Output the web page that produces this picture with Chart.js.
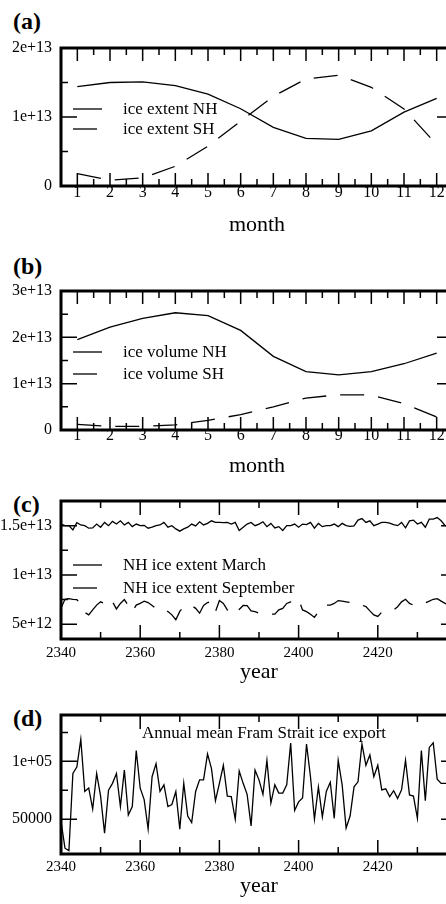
<!DOCTYPE html>
<html>
<head>
<meta charset="utf-8">
<script src="https://cdn.jsdelivr.net/npm/chart.js@4/dist/chart.umd.min.js"></script>
<style>
html, body { margin:0; padding:0; background:#fff; overflow:hidden; width:446px; height:904px; }
canvas { position:absolute; left:0; }
.lab { position:absolute; left:13px; font-family:"Liberation Serif","Times New Roman",serif; font-weight:bold; font-size:24px; line-height:24px; color:#000; }
</style>
</head>
<body>
<div class="lab" style="top:9px">(a)</div>
<div class="lab" style="top:254px">(b)</div>
<div class="lab" style="top:492px">(c)</div>
<div class="lab" style="top:706px">(d)</div>
<canvas id="ca" width="470" height="207" style="top:31px"></canvas>
<canvas id="cb" width="470" height="205" style="top:274px"></canvas>
<canvas id="cc" width="470" height="201" style="top:484px"></canvas>
<canvas id="cd" width="470" height="201" style="top:698px"></canvas>
<script>
// ---------------- DATA ----------------
const months = [1, 2, 3, 4, 5, 6, 7, 8, 9, 10, 11, 12];

// (a) monthly sea-ice extent, units of 1e13
const iceExtentNH = [1.44, 1.50, 1.51, 1.455, 1.33, 1.12, 0.85, 0.69, 0.676, 0.80, 1.07, 1.27];
const iceExtentSH = [0.178, 0.085, 0.117, 0.286, 0.577, 0.94, 1.30, 1.55, 1.605, 1.43, 1.117, 0.60];

// (b) monthly sea-ice volume, units of 1e13
const iceVolumeNH = [1.95, 2.22, 2.41, 2.53, 2.47, 2.15, 1.59, 1.26, 1.19, 1.26, 1.43, 1.66];
const iceVolumeSH = [0.12, 0.08, 0.08, 0.11, 0.21, 0.33, 0.50, 0.69, 0.76, 0.755, 0.57, 0.28];

const years = [
  2340, 2341, 2342, 2343, 2344, 2345, 2346, 2347, 2348, 2349,
  2350, 2351, 2352, 2353, 2354, 2355, 2356, 2357, 2358, 2359,
  2360, 2361, 2362, 2363, 2364, 2365, 2366, 2367, 2368, 2369,
  2370, 2371, 2372, 2373, 2374, 2375, 2376, 2377, 2378, 2379,
  2380, 2381, 2382, 2383, 2384, 2385, 2386, 2387, 2388, 2389,
  2390, 2391, 2392, 2393, 2394, 2395, 2396, 2397, 2398, 2399,
  2400, 2401, 2402, 2403, 2404, 2405, 2406, 2407, 2408, 2409,
  2410, 2411, 2412, 2413, 2414, 2415, 2416, 2417, 2418, 2419,
  2420, 2421, 2422, 2423, 2424, 2425, 2426, 2427, 2428, 2429,
  2430, 2431, 2432, 2433, 2434, 2435, 2436, 2437, 2438
];

// (c) NH ice extent, units of 1e12
const extentMarch = [
  15.16, 15.0, 15.0, 14.57, 15.30, 15.07, 15.0, 14.74, 14.77, 15.16,
  14.84, 15.33, 15.0, 15.43, 15.16, 15.49, 15.07, 15.33, 14.90, 15.16,
  15.0, 15.03, 14.74, 14.84, 15.0, 15.07, 15.33, 14.84, 15.0, 14.67,
  14.44, 14.67, 14.84, 15.16, 14.97, 15.39, 15.07, 15.23, 15.49, 15.33,
  15.33, 15.30, 15.33, 15.16, 15.33, 14.51, 14.84, 15.16, 15.33, 15.0,
  15.16, 15.39, 14.90, 15.23, 14.77, 14.90, 14.51, 15.0, 15.0, 15.16,
  14.84, 15.16, 15.10, 15.33, 14.74, 15.23, 14.90, 15.0, 15.0, 15.16,
  14.90, 15.23, 15.0, 14.93, 14.97, 15.56, 15.72, 15.33, 15.49, 15.0,
  15.16, 15.33, 15.33, 15.26, 15.10, 15.0, 15.33, 14.77, 15.49, 15.56,
  15.16, 15.33, 14.84, 15.66, 15.66, 15.82, 15.49, 15.0, 14.9
];
const extentSeptember = [
  6.61, 7.53, 7.60, 7.53, 7.50, 7.0, 6.2, 5.95, 6.45, 6.94,
  7.27, 7.1, 6.8, 7.27, 6.55, 7.11, 7.50, 6.9, 6.28, 6.94,
  7.11, 7.34, 7.20, 6.9, 6.6, 6.55, 6.55, 6.28, 5.95, 5.46,
  6.3, 6.78, 6.94, 6.88, 6.61, 6.12, 6.9, 7.2, 7.27, 6.28,
  7.40, 7.11, 6.45, 6.94, 6.68, 6.5, 6.9, 6.88, 6.35, 6.28,
  6.12, 6.02, 6.02, 6.02, 6.02, 6.45, 6.61, 7.11, 7.27, 7.53,
  7.53, 6.45, 6.28, 6.02, 5.69, 6.28, 6.78, 6.94, 6.94, 7.11,
  7.40, 7.34, 7.27, 7.20, 7.01, 6.94, 6.94, 6.78, 6.35, 5.95,
  5.79, 6.22, 6.35, 6.35, 6.45, 6.78, 7.27, 7.53, 7.11, 6.94,
  6.88, 7.01, 7.17, 7.34, 7.53, 7.60, 7.34, 7.11, 6.9
];

// (d) annual mean Fram Strait ice export
const framExport = [
  48500, 25000, 23000, 89500, 95000, 119000, 74000, 77000, 58700, 89500,
  70000, 38000, 75000, 81000, 89500, 61000, 92400, 53600, 61000, 109300,
  76800, 67000, 41500, 86700, 98000, 74000, 79700, 61000, 62700, 74000,
  41500, 81000, 52800, 47200, 74000, 84000, 84000, 106400, 93700, 66000,
  81000, 96600, 70000, 69500, 50000, 91600, 81000, 71500, 44300, 92400,
  84000, 71500, 100800, 64000, 79700, 72600, 72600, 79700, 115800, 57600,
  65000, 68400, 115000, 86700, 50000, 78000, 52000, 74000, 81900, 50800,
  100800, 79700, 42400, 52800, 78000, 82300, 115000, 96600, 105600, 86700,
  96600, 75400, 76300, 69500, 74600, 68000, 75400, 101000, 71000, 70000,
  50800, 109300, 66000, 112000, 116000, 84600, 81000, 81000, 81000
];

// ticks
const monthTicks = [1, 2, 3, 4, 5, 6, 7, 8, 9, 10, 11, 12];
const monthMinorTicks = [1.5, 2.5, 3.5, 4.5, 5.5, 6.5, 7.5, 8.5, 9.5, 10.5, 11.5];
const yearTicks = [2340, 2360, 2380, 2400, 2420];
const yearMinorTicks = [2350, 2370, 2390, 2410, 2430];

const yTicksA = [0, 1e13, 2e13];
const yLabelsA = ['0', '1e+13', '2e+13'];
const yMinorA = [0.5e13, 1.5e13];
const yTicksB = [0, 1e13, 2e13, 3e13];
const yLabelsB = ['0', '1e+13', '2e+13', '3e+13'];
const yMinorB = [0.5e13, 1.5e13, 2.5e13];
const yTicksC = [5e12, 1e13, 1.5e13];
const yLabelsC = ['5e+12', '1e+13', '1.5e+13'];
const yMinorC = [7.5e12, 1.25e13];
const yTicksD = [50000, 100000];
const yLabelsD = ['50000', '1e+05'];
const yMinorD = [75000, 125000];

const noteD = 'Annual mean Fram Strait ice export';

// ---------------- DRAWING ----------------
const FONT = '"Liberation Serif", "Times New Roman", serif';

const framePlugin = {
  id: 'frame',
  afterDatasetsDraw(chart, args, o) {
    const { ctx, chartArea: a } = chart;
    const x = chart.scales.x, y = chart.scales.y;
    ctx.save();
    ctx.strokeStyle = '#000';
    ctx.lineWidth = 1.5;
    ctx.beginPath();
    const xt = (vals, len) => vals.forEach(v => {
      const p = x.getPixelForValue(v);
      ctx.moveTo(p, a.bottom); ctx.lineTo(p, a.bottom - len);
      ctx.moveTo(p, a.top); ctx.lineTo(p, a.top + len);
    });
    const yt = (vals, len) => vals.forEach(v => {
      const p = y.getPixelForValue(v);
      ctx.moveTo(a.left, p); ctx.lineTo(a.left + len, p);
      ctx.moveTo(a.right, p); ctx.lineTo(a.right - len, p);
    });
    xt(o.xMajor, o.xMajorLen);
    xt(o.xMinor, o.xMinorLen);
    yt(o.yMajor, 16);
    yt(o.yMinor, 7);
    ctx.stroke();
    ctx.lineWidth = 3;
    ctx.strokeRect(a.left, a.top, a.right - a.left, a.bottom - a.top);
    ctx.restore();
  }
};

const legendPlugin = {
  id: 'inlegend',
  afterDatasetsDraw(chart, args, o) {
    if (!o.rows) return;
    const { ctx, chartArea: a } = chart;
    chart.data.datasets.forEach((ds, i) => {
      const yy = a.top + o.rows[i];
      ctx.save();
      ctx.strokeStyle = '#000';
      ctx.lineWidth = 1.3;
      ctx.setLineDash(ds.borderDash || []);
      ctx.beginPath();
      ctx.moveTo(a.left + 12, yy);
      ctx.lineTo(a.left + 41, yy);
      ctx.stroke();
      ctx.setLineDash([]);
      ctx.fillStyle = '#000';
      ctx.font = '17px ' + FONT;
      ctx.textBaseline = 'middle';
      ctx.textAlign = 'left';
      ctx.fillText(ds.label, a.left + 62, yy + 1);
      ctx.restore();
    });
  }
};

const notePlugin = {
  id: 'note',
  afterDatasetsDraw(chart, args, o) {
    if (!o.text) return;
    const { ctx, chartArea: a } = chart;
    ctx.save();
    ctx.fillStyle = '#000';
    ctx.font = '17px ' + FONT;
    ctx.textBaseline = 'middle';
    ctx.textAlign = 'left';
    ctx.fillText(o.text, a.left + o.dx, a.top + o.dy);
    ctx.restore();
  }
};

function build(p) {
  return new Chart(document.getElementById(p.id), {
    type: 'line',
    data: {
      datasets: p.series.map(s => ({
        label: s.label,
        data: s.x.map((xv, i) => ({ x: xv, y: s.y[i] * s.unit })),
        borderColor: '#000',
        borderWidth: 1.3,
        borderDash: s.dash,
        pointRadius: 0,
        tension: 0,
        fill: false
      }))
    },
    options: {
      responsive: false,
      animation: false,
      devicePixelRatio: 1,
      layout: { padding: { top: 14, right: p.padRight, left: 0, bottom: 0 } },
      plugins: {
        legend: { display: false },
        tooltip: { enabled: false },
        frame: { xMajor: p.xMajor, xMinor: p.xMinor, xMajorLen: p.xMajorLen, xMinorLen: 7, yMajor: p.yTicks, yMinor: p.yMinor },
        inlegend: { rows: p.legendRows },
        note: p.note || {}
      },
      scales: {
        x: {
          type: 'linear', min: p.xMin, max: p.xMax,
          grid: { display: false, drawTicks: false, tickLength: 0 }, border: { display: false },
          afterBuildTicks: sc => { sc.ticks = p.xMajor.map(v => ({ value: v })); },
          afterFit: sc => { sc.height = p.xH; },
          ticks: { autoSkip: false, maxRotation: 0, padding: p.xPad, color: '#000',
                   font: { family: FONT, size: p.xFont, lineHeight: 1 },
                   callback: v => String(v) },
          title: { display: true, text: p.xTitle, color: '#000', padding: 0,
                   font: { family: FONT, size: 22, lineHeight: 1.2 } }
        },
        y: {
          type: 'linear', min: p.yMin, max: p.yMax,
          grid: { display: false, drawTicks: false, tickLength: 0 }, border: { display: false },
          afterBuildTicks: sc => { sc.ticks = p.yTicks.map(v => ({ value: v })); },
          afterFit: sc => { sc.width = 61; },
          ticks: { autoSkip: false, padding: 9, color: '#000',
                   font: { family: FONT, size: 16, lineHeight: 1 },
                   callback: (v, i) => p.yLabels[i] }
        }
      }
    },
    plugins: [framePlugin, legendPlugin, notePlugin]
  });
}

const DASH = [24, 14];

build({
  id: 'ca', xMin: 0.5, xMax: 12.5, padRight: 17, xH: 52, xPad: -1, xFont: 16, xTitle: 'month',
  xMajor: monthTicks, xMinor: monthMinorTicks, xMajorLen: 13,
  yMin: 0, yMax: 2e13, yTicks: yTicksA, yLabels: yLabelsA, yMinor: yMinorA,
  legendRows: [61, 81],
  series: [
    { label: 'ice extent NH', x: months, y: iceExtentNH, unit: 1e13, dash: [] },
    { label: 'ice extent SH', x: months, y: iceExtentSH, unit: 1e13, dash: DASH }
  ]
});

build({
  id: 'cb', xMin: 0.5, xMax: 12.5, padRight: 17, xH: 49, xPad: -2, xFont: 16, xTitle: 'month',
  xMajor: monthTicks, xMinor: monthMinorTicks, xMajorLen: 13,
  yMin: 0, yMax: 3e13, yTicks: yTicksB, yLabels: yLabelsB, yMinor: yMinorB,
  legendRows: [61, 83],
  series: [
    { label: 'ice volume NH', x: months, y: iceVolumeNH, unit: 1e13, dash: [] },
    { label: 'ice volume SH', x: months, y: iceVolumeSH, unit: 1e13, dash: DASH }
  ]
});

build({
  id: 'cc', xMin: 2340, xMax: 2440, padRight: 13, xH: 46, xPad: 7, xFont: 15, xTitle: 'year',
  xMajor: yearTicks, xMinor: yearMinorTicks, xMajorLen: 14,
  yMin: 3.5e12, yMax: 1.75e13, yTicks: yTicksC, yLabels: yLabelsC, yMinor: yMinorC,
  legendRows: [64, 87],
  series: [
    { label: 'NH ice extent March', x: years, y: extentMarch, unit: 1e12, dash: [] },
    { label: 'NH ice extent September', x: years, y: extentSeptember, unit: 1e12, dash: DASH }
  ]
});

build({
  id: 'cd', xMin: 2340, xMax: 2440, padRight: 13, xH: 45, xPad: 6, xFont: 15, xTitle: 'year',
  xMajor: yearTicks, xMinor: yearMinorTicks, xMajorLen: 14,
  yMin: 20000, yMax: 140000, yTicks: yTicksD, yLabels: yLabelsD, yMinor: yMinorD,
  legendRows: null,
  note: { text: noteD, dx: 81, dy: 18.5 },
  series: [
    { label: 'Fram Strait ice export', x: years, y: framExport, unit: 1, dash: [] }
  ]
});
</script>
</body>
</html>
